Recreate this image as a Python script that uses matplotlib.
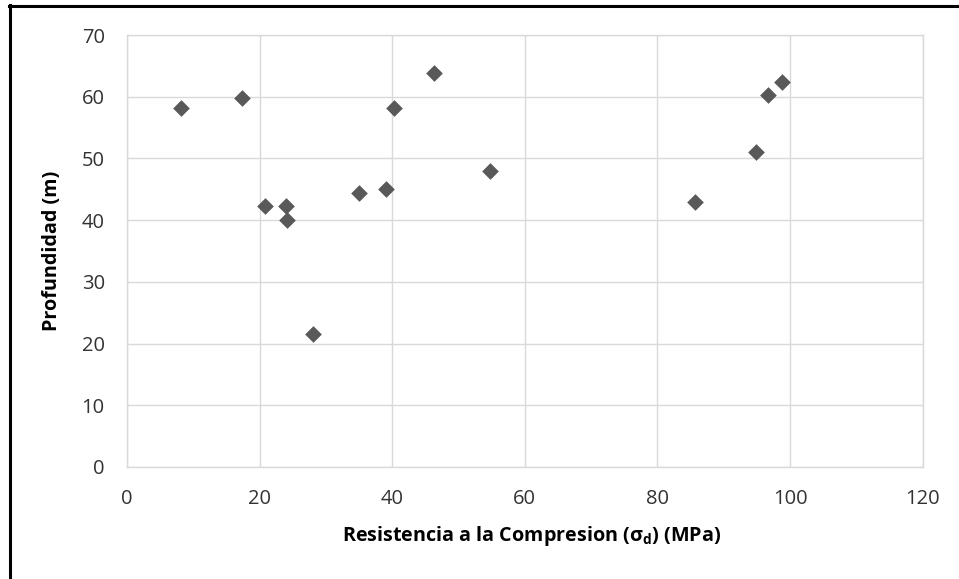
import matplotlib
matplotlib.use("Agg")
import matplotlib.pyplot as plt
from matplotlib.lines import Line2D

# Compressive strength (MPa) vs depth (m)
resistencia = [8.1, 17.3, 20.8, 24.0, 24.1, 28.0, 35.0, 39.1, 40.3, 46.3, 54.8, 85.7, 94.9, 96.7, 98.8]
profundidad = [58.1, 59.8, 42.3, 42.3, 40.0, 21.6, 44.4, 45.0, 58.1, 63.9, 47.9, 42.9, 51.0, 60.3, 62.4]

x_ticks = [0, 20, 40, 60, 80, 100, 120]
y_ticks = [0, 10, 20, 30, 40, 50, 60, 70]

plt.rcParams['font.family'] = ['Open Sans', 'DejaVu Sans']

W, H = 959, 579
fig = plt.figure(figsize=(W / 100, H / 100), dpi=100)
ax = fig.add_axes([127 / W, 1 - 467 / H, (922.7 - 127) / W, (467 - 35) / H])

grid_col = '#d9d9d9'
ax.scatter(resistencia, profundidad, marker='D', s=8.5 ** 2, color='#595959',
           linewidths=0, zorder=3)

ax.set_xlim(0, 120)
ax.set_ylim(0, 70)
ax.set_xticks(x_ticks)
ax.set_yticks(y_ticks)
ax.grid(True, color=grid_col, linewidth=1.0)
ax.set_axisbelow(True)
for sp in ax.spines.values():
    sp.set_color(grid_col)
    sp.set_linewidth(1.0)
ax.tick_params(length=0, pad=16, labelsize=14.5, labelcolor='#333333')

ax.set_xlabel('Resistencia a la Compresion (σ$_\\mathregular{d}$) (MPa)',
              fontsize=14.2, fontweight='bold', color='black')
ax.set_ylabel('Profundidad (m)', fontsize=14.2, fontweight='bold', color='black')
ax.xaxis.set_label_coords(0.508, -0.16)
ax.xaxis.label.set_verticalalignment('center')
ax.yaxis.set_label_coords(-0.094, 0.5)
ax.yaxis.label.set_verticalalignment('center')

# frame lines around the chart area
fig.add_artist(Line2D([9.5 / W, 9.5 / W], [0, 1 - 5 / H], transform=fig.transFigure,
                      color='black', linewidth=2.2))
fig.add_artist(Line2D([8.5 / W, 1], [1 - 6 / H, 1 - 6 / H], transform=fig.transFigure,
                      color='black', linewidth=2.2))

fig.savefig('out.png', dpi=100, facecolor='white')
